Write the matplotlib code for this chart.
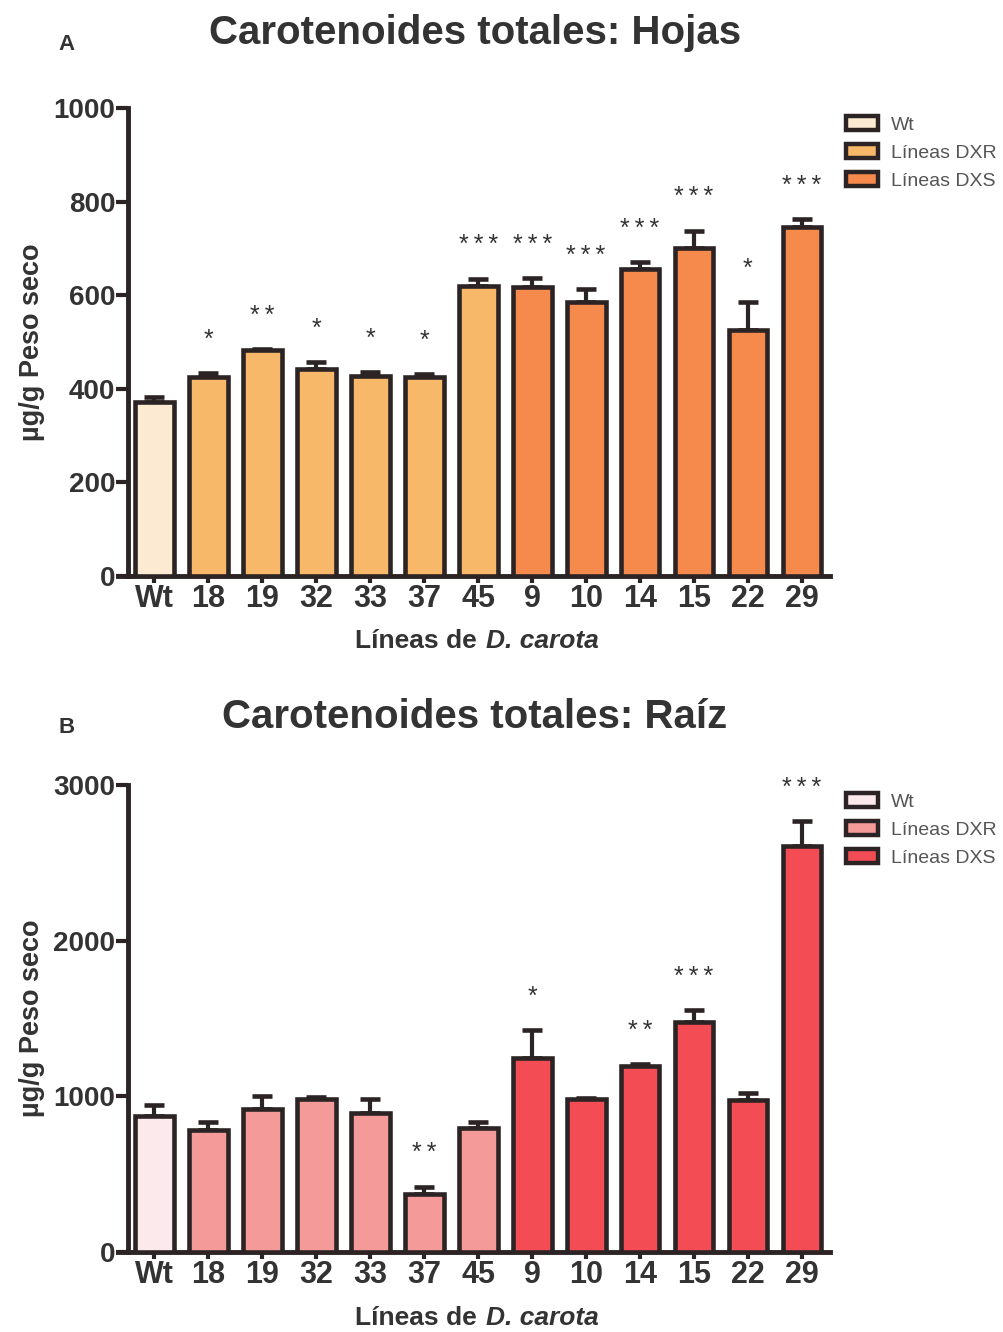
import numpy as np
import matplotlib
matplotlib.use('Agg')
import matplotlib.pyplot as plt
from matplotlib.patches import Patch

plt.rcParams['font.family'] = ['Liberation Sans', 'DejaVu Sans']

lineas = ["Wt", "18", "19", "32", "33", "37", "45", "9", "10", "14", "15", "22", "29"]
# 0 = Wt, 1 = DXR lines, 2 = DXS lines
grupo = [0, 1, 1, 1, 1, 1, 1, 2, 2, 2, 2, 2, 2]

hojas_media = [372, 425, 483, 442, 427, 425, 620, 618, 585, 657, 700, 525, 745]
hojas_err = [10, 8, 2, 15, 8, 7, 15, 18, 28, 14, 38, 60, 18]
hojas_sig = ["", "*", "**", "*", "*", "*", "***", "***", "***", "***", "***", "*", "***"]

raiz_media = [875, 785, 916, 980, 896, 375, 798, 1248, 985, 1192, 1480, 976, 2607]
raiz_err = [70, 52, 88, 15, 90, 45, 40, 178, 5, 15, 75, 45, 160]
raiz_sig = ["", "", "", "", "", "**", "", "*", "", "**", "***", "", "***"]

legend_labels = ["Wt", "Líneas DXR", "Líneas DXS"]
hojas_colores = ["#fcebd2", "#f8b86a", "#f68a4c"]
raiz_colores = ["#fbe9ec", "#f49a98", "#f44c55"]

EDGE = "#2b2324"
TXT = "#333333"
W, H = 1004, 1332


def panel(ax, media, err, sig, colores, ymax, step, titulo, letra, letra_y,
          titulo_y, xlab_y, leg_y):
    x = np.arange(len(lineas))
    fc = [colores[g] for g in grupo]
    ax.bar(x, media, width=0.72, color=fc, edgecolor=EDGE, linewidth=3.3, zorder=3)
    ax.errorbar(x, media, yerr=[np.zeros(len(err)), err], fmt='none', ecolor=EDGE,
                elinewidth=3.0, capsize=7, capthick=3.3, zorder=2)
    for xi, m, e, s in zip(x, media, err, sig):
        if s:
            ax.annotate("\u2009".join(s), xy=(xi, m + e), xytext=(0, 19),
                        textcoords='offset points', ha='center', va='baseline',
                        fontsize=18, color=TXT, zorder=4)

    ax.set_xlim(-0.49, 12.52)
    ax.set_ylim(0, ymax)
    ax.set_yticks(np.arange(0, ymax + 1, step))
    ax.set_xticks(x)
    ax.set_xticklabels(lineas)
    for s in ['top', 'right']:
        ax.spines[s].set_visible(False)
    for s in ['left', 'bottom']:
        ax.spines[s].set_linewidth(3.5)
        ax.spines[s].set_color(EDGE)
    ax.spines['bottom'].set_bounds(-0.68, 12.52)
    ax.tick_params(axis='x', width=3, length=5, color=EDGE, labelcolor=TXT,
                   labelsize=22, pad=1)
    ax.tick_params(axis='y', width=3, length=9, color=EDGE, labelcolor=TXT,
                   labelsize=20, pad=0)
    for lab in ax.get_xticklabels() + ax.get_yticklabels():
        lab.set_fontweight('bold')

    ax.set_ylabel("µg/g Peso seco", fontsize=19.5, fontweight='bold', color=TXT, labelpad=6)
    fig.text(484 / W, 1 - xlab_y / H, "Líneas de ", ha='right', va='center',
             fontsize=19, fontweight='bold', color=TXT)
    fig.text(486 / W, 1 - xlab_y / H, "D. carota", ha='left', va='center',
             fontsize=19, fontweight='bold', fontstyle='italic', color=TXT)
    fig.text(475 / W, 1 - titulo_y / H, titulo, ha='center', va='center',
             fontsize=29, fontweight='bold', color=TXT)
    fig.text(67 / W, 1 - letra_y / H, letra, ha='center', va='center',
             fontsize=16, fontweight='bold', color=TXT)

    handles = [Patch(facecolor=c, edgecolor=EDGE, linewidth=3.2) for c in colores]
    fig.legend(handles, legend_labels, loc='upper left', bbox_to_anchor=(842 / W, leg_y),
               frameon=False, fontsize=14, handlelength=1.65, handleheight=0.72,
               handletextpad=0.65, labelspacing=0.53, labelcolor='#555555',
               borderaxespad=0, borderpad=0.2)


fig = plt.figure(figsize=(W / 100, H / 100), dpi=100)
ax1 = fig.add_axes([128 / W, 1 - 576 / H, 702 / W, 468 / H])
ax2 = fig.add_axes([128 / W, 1 - 1252 / H, 702 / W, 467 / H])

panel(ax1, hojas_media, hojas_err, hojas_sig, hojas_colores, 1000, 200,
      "Carotenoides totales: Hojas", "A", 45, 33, 641, 1 - 112 / H)
panel(ax2, raiz_media, raiz_err, raiz_sig, raiz_colores, 3000, 1000,
      "Carotenoides totales: Raíz", "B", 727, 717, 1318, 1 - 789 / H)

fig.savefig("out.png", dpi=100)
